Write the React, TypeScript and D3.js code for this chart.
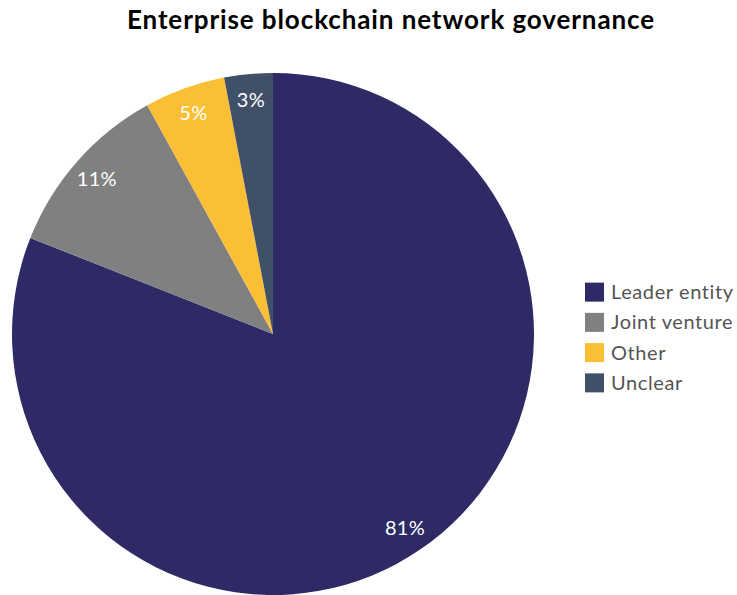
import React from "react";
import * as d3 from "d3";

const categories = ["Leader entity", "Joint venture", "Other", "Unclear"];
const values = [81, 11, 5, 3];
const colors = ["#2e2a66", "#808080", "#fbbf36", "#3f5068"];
const title = "Enterprise blockchain network governance";

const W = 737;
const H = 595;

export default function App() {
  const cx = 273;
  const cy = 334;
  const r = 261;
  const pie = d3.pie<number>().sort(null).value((d) => d)(values);
  const arc = d3.arc<d3.PieArcDatum<number>>().innerRadius(0).outerRadius(r);
  const labelArc = d3.arc<d3.PieArcDatum<number>>().innerRadius(r * 0.9).outerRadius(r * 0.9);
  const font = "Lato, 'Open Sans', sans-serif";
  const legendY = d3.scaleBand<string>().domain(categories).range([277, 398]);
  return (
    <svg width={W} height={H} style={{ position: "absolute", left: 0, top: 0, background: "#fff" }} fontFamily={font}>
      <text x={391} y={29} textAnchor="middle" fontSize={26} fontWeight={700} letterSpacing={0.9} fill="#000">
        {title}
      </text>
      <g transform={`translate(${cx},${cy})`}>
        {pie.map((p, i) => (
          <path key={i} d={arc(p) || ""} fill={colors[i]} />
        ))}
        {pie.map((p, i) => {
          const [lx, ly] = labelArc.centroid(p);
          return (
            <text key={"l" + i} x={lx} y={ly} dy="0.35em" textAnchor="middle" fontSize={20} letterSpacing={0.3} fill="#fff">
              {values[i]}%
            </text>
          );
        })}
      </g>
      <g>
        {categories.map((c, i) => {
          const y = (legendY(c) || 0) + legendY.bandwidth() / 2;
          return (
            <g key={c}>
              <rect x={585} y={y - 9.5} width={19} height={19} fill={colors[i]} />
              <text x={611} y={y} dy="0.35em" fontSize={20} letterSpacing={0.6} fill="#555">
                {c}
              </text>
            </g>
          );
        })}
      </g>
    </svg>
  );
}
